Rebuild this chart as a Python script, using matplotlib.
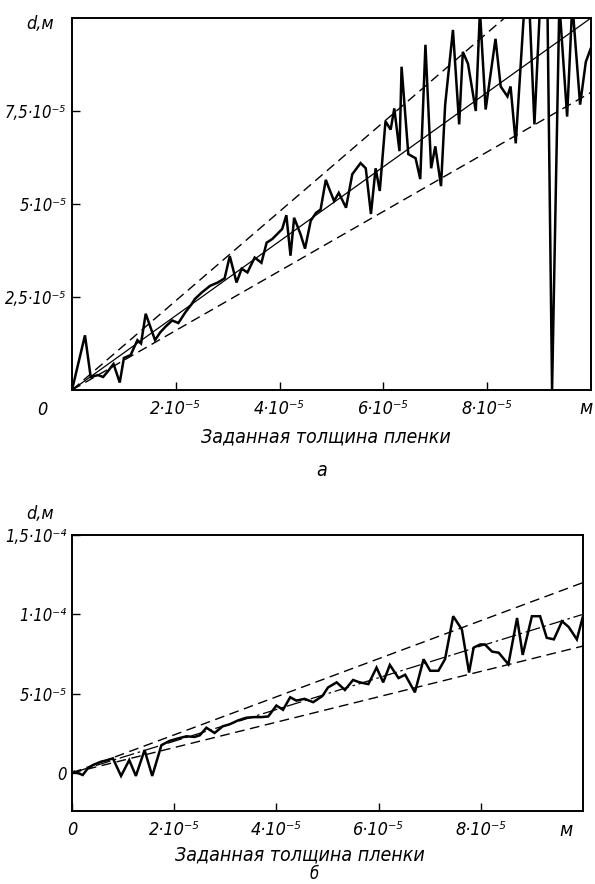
import matplotlib
matplotlib.use("Agg")
import matplotlib.pyplot as plt
from matplotlib import font_manager

# -----------------------------
# data (units of 1e-5 m)
# -----------------------------
top_x = [0, 0.25, 0.36, 0.5, 0.6, 0.69, 0.8, 0.92, 1.0, 1.13, 1.26, 1.33, 1.42,
         1.6, 1.7, 1.8, 1.93, 2.05, 2.18, 2.3, 2.37, 2.5, 2.66, 2.81, 2.94, 3.04,
         3.17, 3.27, 3.38, 3.52, 3.65, 3.75, 3.86, 3.96, 4.05, 4.13, 4.21, 4.28,
         4.4, 4.49, 4.6, 4.7, 4.79, 4.89, 4.95, 5.05, 5.14, 5.28, 5.4, 5.56, 5.66,
         5.76, 5.85, 5.93, 6.04, 6.14, 6.21, 6.31, 6.35, 6.48, 6.62, 6.71, 6.81,
         6.92, 7.0, 7.11, 7.19, 7.34, 7.46, 7.53, 7.63, 7.78, 7.86, 7.97, 8.16,
         8.26, 8.39, 8.45, 8.55, 8.72, 8.81, 8.91, 9.02, 9.16, 9.25, 9.39, 9.54,
         9.64, 9.79, 9.9, 10.0]
top_y = [0, 1.47, 0.35, 0.4, 0.35, 0.5, 0.7, 0.2, 0.86, 0.94, 1.34, 1.25, 2.05,
         1.34, 1.55, 1.7, 1.87, 1.8, 2.08, 2.3, 2.45, 2.62, 2.8, 2.89, 3.0, 3.6,
         2.89, 3.26, 3.16, 3.56, 3.42, 3.96, 4.06, 4.2, 4.33, 4.7, 3.61, 4.63,
         4.2, 3.8, 4.55, 4.76, 4.85, 5.65, 5.43, 5.08, 5.3, 4.9, 5.8, 6.1, 5.96,
         4.73, 5.96, 5.35, 7.22, 7.0, 7.57, 6.42, 8.69, 6.34, 6.23, 5.67, 9.28,
         5.96, 6.55, 5.48, 7.67, 9.68, 7.14, 9.09, 8.77, 7.5, 10.2, 7.54, 9.44,
         8.16, 7.89, 8.16, 6.63, 10.4, 10.4, 7.14, 10.4, 10.4, 0.0, 10.4, 7.35,
         10.4, 7.67, 8.82, 9.2]

bot_x = [0.05, 0.21, 0.31, 0.41, 0.57, 0.7, 0.8, 0.96, 1.12, 1.25, 1.42, 1.57,
         1.75, 1.91, 2.07, 2.24, 2.4, 2.5, 2.63, 2.79, 2.95, 3.08, 3.25, 3.41,
         3.57, 3.71, 3.84, 4.0, 4.13, 4.27, 4.39, 4.55, 4.72, 4.9, 5.01, 5.18,
         5.34, 5.5, 5.63, 5.8, 5.96, 6.09, 6.22, 6.39, 6.52, 6.71, 6.88, 7.01,
         7.17, 7.3, 7.46, 7.63, 7.77, 7.86, 7.99, 8.08, 8.22, 8.35, 8.54, 8.71,
         8.82, 9.0, 9.16, 9.29, 9.43, 9.59, 9.72, 9.88, 10.0]
bot_y = [0.08, -0.13, 0.29, 0.5, 0.71, 0.81, 0.92, -0.19, 0.81, -0.19, 1.44,
         -0.19, 1.75, 2.02, 2.17, 2.31, 2.27, 2.37, 2.85, 2.52, 2.94, 3.06, 3.31,
         3.48, 3.52, 3.52, 3.56, 4.25, 3.98, 4.77, 4.56, 4.67, 4.46, 4.85, 5.39,
         5.71, 5.23, 5.86, 5.71, 5.6, 6.64, 5.71, 6.81, 5.98, 6.19, 5.08, 7.17,
         6.44, 6.44, 7.17, 9.88, 9.04, 6.33, 7.9, 8.1, 8.1, 7.65, 7.58, 6.85,
         9.77, 7.44, 9.88, 9.88, 8.52, 8.42, 9.56, 9.2, 8.42, 9.88]

band = [0.8, 1.0, 1.2]          # slopes of the guide lines
line_end = [0, 10.0]

top_yticks = [2.5, 5.0, 7.5]
top_ylabels = ["2,5·10⁻⁵", "5·10⁻⁵", "7,5·10⁻⁵"]
top_xticks = [2, 4, 6, 8]
top_xlabels = ["2·10⁻⁵", "4·10⁻⁵", "6·10⁻⁵", "8·10⁻⁵"]

bot_yticks = [0, 5, 10, 15]
bot_ylabels = ["0", "5·10⁻⁵", "1·10⁻⁴", "1,5·10⁻⁴"]
bot_xticks = [0, 2, 4, 6, 8]
bot_xlabels = ["0", "2·10⁻⁵", "4·10⁻⁵", "6·10⁻⁵", "8·10⁻⁵"]

# -----------------------------
# fonts
# -----------------------------
names = {f.name for f in font_manager.fontManager.ttflist}
fam = "Liberation Sans Narrow" if "Liberation Sans Narrow" in names else "DejaVu Sans"
plt.rcParams['font.family'] = [fam, 'DejaVu Sans']
plt.rcParams['font.style'] = 'italic'
plt.rcParams['font.stretch'] = 'condensed'
FS = 13


def scaled(v):
    return [a * 1e-5 for a in v]


def style_axes(ax):
    for s in ax.spines.values():
        s.set_linewidth(1.4)
    ax.tick_params(direction='in', length=6, width=1.0)
    ax.tick_params(axis='x', labelsize=FS, pad=7)
    ax.tick_params(axis='y', labelsize=FS - 1, pad=4)


def draw_panel(ax, xs, ys, center_style):
    ax.plot(scaled(line_end), [band[1] * v for v in scaled(line_end)],
            color='black', lw=0.9, ls=center_style)
    for k in (band[0], band[2]):
        ax.plot(scaled(line_end), [k * v for v in scaled(line_end)],
                color='black', lw=1.0, ls=(0, (7, 4)))
    ax.plot(scaled(xs), scaled(ys), color='black', lw=1.8, solid_joinstyle='miter')


fig = plt.figure(figsize=(5.95, 8.84), dpi=100)

# -----------------------------
# panel a
# -----------------------------
ax1 = fig.add_axes([72 / 595, 1 - 390 / 884, 519 / 595, 372 / 884])
draw_panel(ax1, top_x, top_y, '-')
ax1.set_xlim(0, 1e-4)
ax1.set_ylim(0, 1e-4)
ax1.set_xticks(scaled(top_xticks))
ax1.set_xticklabels(top_xlabels)
ax1.set_yticks(scaled(top_yticks))
ax1.set_yticklabels(top_ylabels)
style_axes(ax1)
fig.text(42 / 595, 1 - 410 / 884, "0", fontsize=FS, ha='center', va='center')
fig.text(586 / 595, 1 - 408 / 884, "м", fontsize=FS + 1, ha='center', va='center')
fig.text(40 / 595, 1 - 24 / 884, "d,м", fontsize=FS, ha='center', va='center')
fig.text(326 / 595, 1 - 437 / 884, "Заданная толщина пленки", fontsize=FS + 1,
         ha='center', va='center')
fig.text(322 / 595, 1 - 470 / 884, "а", fontsize=FS + 1, ha='center', va='center')

# -----------------------------
# panel б
# -----------------------------
ax2 = fig.add_axes([72 / 595, 1 - 811 / 884, 511 / 595, 276 / 884])
draw_panel(ax2, bot_x, bot_y, (0, (12, 3, 2, 3)))
ax2.set_xlim(0, 1e-4)
ax2.set_ylim(-2.4e-5, 1.5e-4)
ax2.set_xticks(scaled(bot_xticks))
ax2.set_xticklabels(bot_xlabels)
ax2.set_yticks(scaled(bot_yticks))
ax2.set_yticklabels(bot_ylabels)
style_axes(ax2)
fig.text(566 / 595, 1 - 830 / 884, "м", fontsize=FS + 1, ha='center', va='center')
fig.text(40 / 595, 1 - 514 / 884, "d,м", fontsize=FS, ha='center', va='center')
fig.text(300 / 595, 1 - 855 / 884, "Заданная толщина пленки", fontsize=FS + 1,
         ha='center', va='center')
fig.text(314 / 595, 1 - 874 / 884, "б", fontsize=FS - 1, ha='center', va='center')

fig.savefig("out.png", dpi=100)
